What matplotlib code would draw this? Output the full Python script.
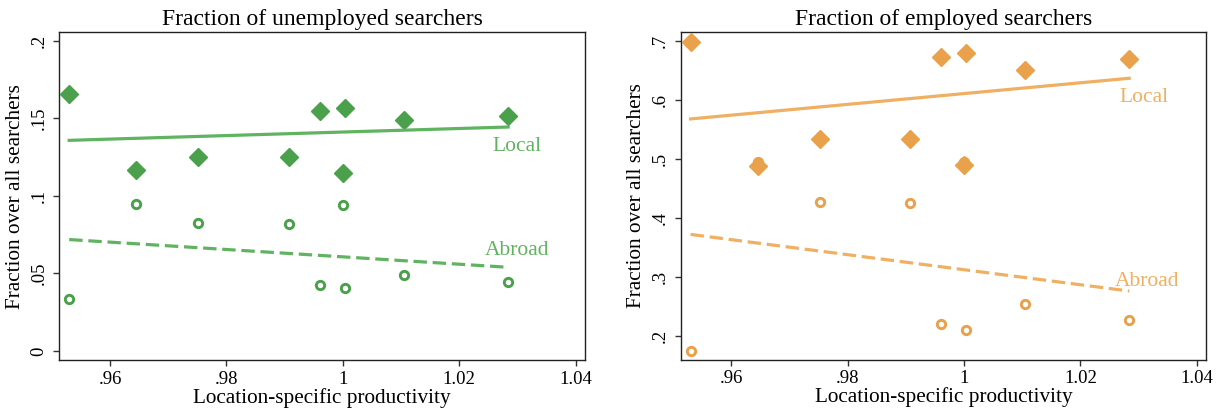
import matplotlib
matplotlib.use("Agg")
import matplotlib.pyplot as plt
import numpy as np

plt.rcParams['font.family'] = ['Liberation Serif', 'DejaVu Serif']

# productivity of each location (same for both panels)
prod = [0.9530, 0.9645, 0.9752, 0.9907, 0.9961, 1.0004, 1.0000, 1.0105, 1.0284]

# unemployed searchers
unemp_local = [0.1656, 0.1167, 0.1251, 0.1249, 0.1546, 0.1565, 0.1148, 0.1492, 0.1518]
unemp_abroad = [0.0338, 0.0949, 0.0825, 0.0820, 0.0424, 0.0409, 0.0943, 0.0491, 0.0442]

# employed searchers
emp_local = [0.6994, 0.4880, 0.5339, 0.5351, 0.6740, 0.6797, 0.4895, 0.6520, 0.6695]
emp_abroad = [0.1751, 0.4950, 0.4271, 0.4249, 0.2198, 0.2102, 0.4960, 0.2537, 0.2271]

# fitted lines (end points)
fit_x = [0.9530, 1.0284]
unemp_local_fit = [0.1359, 0.1445]
unemp_abroad_fit = [0.0719, 0.0540]
emp_local_fit = [0.5683, 0.6373]
emp_abroad_fit = [0.3724, 0.2763]

xticks = [0.96, 0.98, 1.0, 1.02, 1.04]
xticklabels = ['.96', '.98', '1', '1.02', '1.04']

green_pt = '#4ba14b'
green_ln = '#60b360'
orange_pt = '#e9a14b'
orange_ln = '#efb063'


def panel(ax, local, abroad, lfit, afit, cpt, cln, title, yticks, yticklabels, ylim,
          local_pos, abroad_pos):
    ax.plot(prod, abroad, 'o', ms=6.0, mfc='white', mec=cpt, mew=2.1, ls='none', zorder=2)
    ax.plot(prod, local, 'D', ms=9.0, color=cpt, mec=cpt, ls='none', zorder=3)
    ax.plot(fit_x, lfit, '-', color=cln, lw=2.3, zorder=4)
    ax.plot(fit_x, afit, '--', color=cln, lw=2.3, dashes=(4.2, 1.8), zorder=4)
    ax.text(local_pos[0], local_pos[1], 'Local', color=cln, fontsize=15.5,
            ha='center', va='center')
    ax.text(abroad_pos[0], abroad_pos[1], 'Abroad', color=cln, fontsize=15.5,
            ha='center', va='center')
    ax.set_xlim(0.9513, 1.0416)
    ax.set_ylim(*ylim)
    ax.set_xticks(xticks)
    ax.set_xticklabels(xticklabels)
    ax.set_yticks(yticks)
    ax.set_yticklabels(yticklabels, rotation=90, va='center')
    ax.tick_params(axis='both', direction='out', length=4.5, width=1, labelsize=13.5,
                   color='#333333', top=False, right=False)
    ax.tick_params(axis='y', pad=4)
    ax.tick_params(axis='x', pad=3)
    for s in ax.spines.values():
        s.set_color('#222222')
        s.set_linewidth(1.0)
    ax.set_title(title, fontsize=17, pad=5)
    ax.set_xlabel('Location-specific productivity', fontsize=15.3, labelpad=0)
    ax.set_ylabel('Fraction over all searchers', fontsize=15.3, labelpad=4)


fig = plt.figure(figsize=(12.23, 4.15), dpi=100)
ax1 = fig.add_axes([0.0485, 0.1318, 0.4298, 0.7911])
ax2 = fig.add_axes([0.5566, 0.1325, 0.4295, 0.7904])

panel(ax1, unemp_local, unemp_abroad, unemp_local_fit, unemp_abroad_fit,
      green_pt, green_ln, 'Fraction of unemployed searchers',
      [0, 0.05, 0.1, 0.15, 0.2], ['0', '.05', '.1', '.15', '.2'], (-0.006, 0.2058),
      (1.0300, 0.1322), (1.0300, 0.0646))
panel(ax2, emp_local, emp_abroad, emp_local_fit, emp_abroad_fit,
      orange_pt, orange_ln, 'Fraction of employed searchers',
      [0.2, 0.3, 0.4, 0.5, 0.6, 0.7], ['.2', '.3', '.4', '.5', '.6', '.7'], (0.1593, 0.7158),
      (1.0310, 0.6055), (1.0315, 0.2925))

fig.savefig('out.png', dpi=100)
